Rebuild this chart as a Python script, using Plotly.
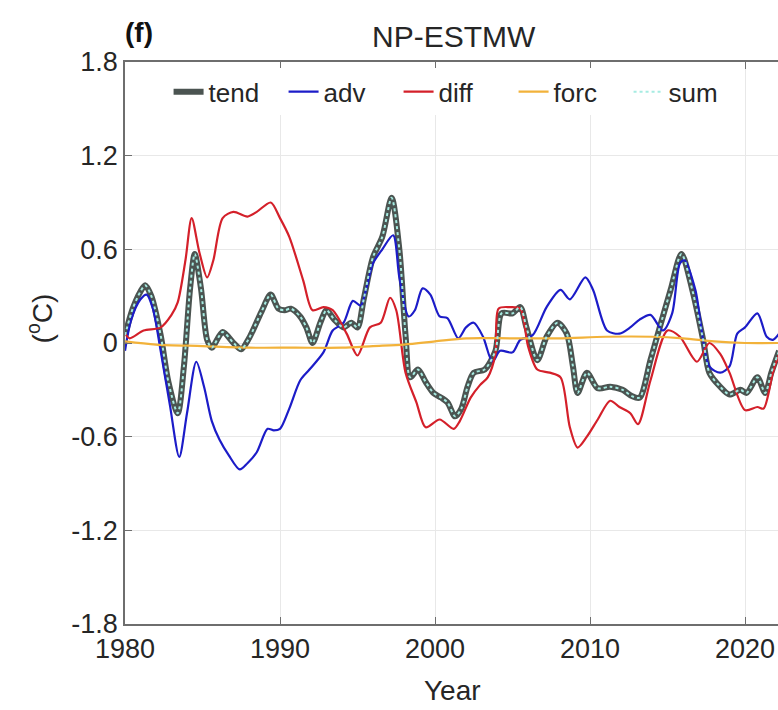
import plotly.graph_objects as go

# ---------------- data ----------------
tend_years = [1980.0, 1980.5, 1981.0, 1981.3, 1981.7, 1982.3, 1982.8, 1983.4, 1983.8, 1984.2,
              1984.5, 1984.9, 1985.3, 1985.6, 1986.3, 1987.0, 1987.5, 1988.0, 1988.8, 1989.4,
              1989.9, 1990.3, 1990.7, 1991.3, 1991.7, 1992.1, 1992.6, 1993.0, 1993.5, 1994.1,
              1994.6, 1995.0, 1995.4, 1996.0, 1996.6, 1997.2, 1997.7, 1998.1, 1998.4, 1998.9,
              1999.4, 1999.9, 2000.4, 2000.8, 2001.3, 2001.7, 2002.1, 2002.5, 2003.2, 2003.9,
              2004.3, 2005.0, 2005.5, 2005.9, 2006.6, 2007.2, 2007.9, 2008.5, 2008.9, 2009.2,
              2009.8, 2010.5, 2011.3, 2012.1, 2012.7, 2013.2, 2013.9, 2014.5, 2015.2, 2015.9,
              2016.6, 2017.3, 2017.7, 2018.4, 2019.0, 2019.7, 2020.1, 2020.8, 2021.3, 2021.7,
              2022.2]
tend_vals = [0.05, 0.22, 0.33, 0.37, 0.30, 0.05, -0.25, -0.45, -0.15, 0.35,
             0.57, 0.35, 0.02, -0.03, 0.07, 0.00, -0.04, 0.03, 0.20, 0.31,
             0.22, 0.21, 0.22, 0.17, 0.10, 0.00, 0.13, 0.21, 0.15, 0.10,
             0.13, 0.10, 0.28, 0.55, 0.68, 0.93, 0.60, 0.05, -0.22, -0.17,
             -0.25, -0.32, -0.35, -0.38, -0.47, -0.42, -0.28, -0.19, -0.17, -0.05,
             0.19, 0.19, 0.23, 0.10, -0.11, 0.04, 0.13, 0.06, -0.15, -0.32,
             -0.19, -0.29, -0.28, -0.30, -0.34, -0.35, -0.11, 0.10, 0.34, 0.57,
             0.34, 0.02, -0.19, -0.28, -0.33, -0.30, -0.32, -0.22, -0.32, -0.19,
             -0.05]

# "sum" overlays "tend" in the picture (same readings)
sum_years = list(tend_years)
sum_vals = list(tend_vals)

adv_years = [1980.0, 1980.4, 1981.0, 1981.4, 1981.8, 1982.3, 1982.9, 1983.5, 1984.0, 1984.6,
             1985.1, 1985.6, 1986.1, 1986.7, 1987.4, 1987.9, 1988.5, 1989.2, 1989.6, 1990.0,
             1990.6, 1991.3, 1991.9, 1992.8, 1993.4, 1994.1, 1994.7, 1995.2, 1995.6, 1996.0,
             1996.6, 1997.3, 1997.7, 1998.3, 1998.7, 1999.2, 1999.7, 2000.3, 2000.8, 2001.5,
             2002.0, 2002.5, 2003.1, 2003.7, 2004.2, 2005.0, 2005.5, 2006.3, 2007.2, 2008.1,
             2008.7, 2009.7, 2010.2, 2011.1, 2011.9, 2012.6, 2013.2, 2013.9, 2014.7, 2015.3,
             2015.8, 2016.1, 2016.8, 2017.7, 2018.4, 2019.0, 2019.5, 2020.0, 2020.8, 2021.4,
             2021.8, 2022.2]
adv_vals = [-0.05, 0.15, 0.28, 0.31, 0.22, -0.05, -0.40, -0.73, -0.45, -0.12,
            -0.28, -0.50, -0.62, -0.72, -0.81, -0.77, -0.70, -0.55, -0.56, -0.55,
            -0.42, -0.24, -0.17, -0.06, 0.08, 0.13, 0.27, 0.24, 0.36, 0.51,
            0.60, 0.69, 0.42, 0.17, 0.21, 0.35, 0.31, 0.17, 0.16, 0.03,
            0.10, 0.13, 0.04, -0.12, -0.05, -0.06, 0.02, 0.05, 0.23, 0.34,
            0.28, 0.42, 0.34, 0.08, 0.06, 0.10, 0.15, 0.18, 0.08, 0.19,
            0.51, 0.53, 0.34, -0.15, -0.19, -0.15, 0.06, 0.10, 0.19, 0.04,
            0.02, 0.06]

diff_years = [1980.0, 1980.3, 1981.2, 1982.3, 1983.0, 1983.4, 1983.9, 1984.3, 1984.8, 1985.3,
              1985.7, 1986.3, 1987.0, 1987.9, 1988.5, 1989.4, 1990.0, 1990.6, 1991.5, 1992.1,
              1992.8, 1993.4, 1994.3, 1995.0, 1995.8, 1996.5, 1997.1, 1997.5, 1998.1, 1998.8,
              1999.4, 2000.3, 2001.2, 2001.6, 2002.3, 2002.9, 2003.4, 2003.9, 2004.1, 2004.8,
              2005.5, 2006.0, 2006.6, 2007.4, 2008.1, 2008.7, 2009.2, 2009.8, 2010.5, 2011.3,
              2011.9, 2012.6, 2013.1, 2013.9, 2015.0, 2015.8, 2016.9, 2017.7, 2018.4, 2019.0,
              2020.0, 2020.8, 2021.2, 2021.8, 2022.2]
diff_vals = [0.06, 0.03, 0.08, 0.10, 0.18, 0.26, 0.53, 0.80, 0.58, 0.42,
             0.53, 0.80, 0.84, 0.81, 0.84, 0.90, 0.80, 0.68, 0.40, 0.21,
             0.23, 0.21, 0.06, -0.08, 0.10, 0.13, 0.29, 0.21, -0.19, -0.38,
             -0.54, -0.49, -0.55, -0.50, -0.35, -0.27, -0.22, -0.07, 0.22, 0.23,
             0.22, -0.02, -0.17, -0.19, -0.22, -0.54, -0.67, -0.60, -0.49, -0.37,
             -0.41, -0.45, -0.52, -0.24, 0.08, 0.04, -0.12, 0.00, -0.07, -0.19,
             -0.43, -0.41, -0.42, -0.19, -0.07]

forc_years = [1980.0, 1982.0, 1985.0, 1988.0, 1991.0, 1994.0, 1996.0, 1998.0, 2000.0, 2002.0,
              2005.0, 2008.0, 2011.0, 2014.0, 2016.0, 2018.0, 2020.0, 2022.2]
forc_vals = [0.01, -0.01, -0.02, -0.03, -0.03, -0.03, -0.02, -0.01, 0.01, 0.03,
             0.03, 0.03, 0.04, 0.04, 0.03, 0.01, 0.00, 0.00]

x_ticks = [1980, 1990, 2000, 2010, 2020]
x_ticklabels = ["1980", "1990", "2000", "2010", "2020"]
y_ticks = [-1.8, -1.2, -0.6, 0, 0.6, 1.2, 1.8]
y_ticklabels = ["-1.8", "-1.2", "-0.6", "0", "0.6", "1.2", "1.8"]

# ---------------- figure ----------------
FONT = "Liberation Sans, Arial, Helvetica, sans-serif"
TXT = "#262626"

fig = go.Figure()
fig.add_trace(go.Scatter(x=tend_years, y=tend_vals, name="tend", mode="lines",
                         line=dict(color="#4b5451", width=6, shape="spline", smoothing=0.8)))
fig.add_trace(go.Scatter(x=adv_years, y=adv_vals, name="adv", mode="lines",
                         line=dict(color="#1c1cc8", width=2.2, shape="spline", smoothing=0.8)))
fig.add_trace(go.Scatter(x=diff_years, y=diff_vals, name="diff", mode="lines",
                         line=dict(color="#d4202a", width=2.2, shape="spline", smoothing=0.8)))
fig.add_trace(go.Scatter(x=forc_years, y=forc_vals, name="forc", mode="lines",
                         line=dict(color="#f2b23a", width=2.2, shape="spline", smoothing=0.8)))
fig.add_trace(go.Scatter(x=sum_years, y=sum_vals, name="sum", mode="lines",
                         line=dict(color="#a6ece2", width=2, dash="dot", shape="spline", smoothing=0.8)))

fig.update_layout(
    width=778, height=710,
    margin=dict(l=125, r=0, t=62, b=86),
    paper_bgcolor="white", plot_bgcolor="white",
    font=dict(family=FONT, size=27, color=TXT),
    showlegend=True,
    legend=dict(orientation="h", x=0.507, y=0.947, xanchor="center", yanchor="middle",
                bgcolor="rgba(255,255,255,1)", borderwidth=0,
                font=dict(family=FONT, size=26, color=TXT), entrywidth=70,
                tracegroupgap=0),
    xaxis=dict(range=[1980, 1980 + 653 / 15.5], tickvals=x_ticks, ticktext=x_ticklabels,
               showgrid=True, gridcolor="#e8e8e8", gridwidth=1,
               showline=True, linecolor="#6e6e6e", linewidth=1.5, mirror="ticks",
               ticks="inside", ticklen=7, tickcolor="#6e6e6e",
               tickfont=dict(family=FONT, size=27, color=TXT), zeroline=False),
    yaxis=dict(range=[-1.8, 1.8], tickvals=y_ticks, ticktext=y_ticklabels,
               showgrid=True, gridcolor="#e8e8e8", gridwidth=1,
               showline=True, linecolor="#6e6e6e", linewidth=1.5, mirror=False,
               ticks="inside", ticklen=7, tickcolor="#6e6e6e",
               tickfont=dict(family=FONT, size=27, color=TXT), zeroline=False),
    annotations=[
        dict(text="NP-ESTMW", xref="paper", yref="paper", x=0.504, y=1.046,
             xanchor="center", yanchor="middle", showarrow=False,
             font=dict(family=FONT, size=30, color=TXT)),
        dict(text="<b>(f)</b>", xref="paper", yref="paper", x=-0.003, y=1.052,
             xanchor="left", yanchor="middle", showarrow=False,
             font=dict(family=FONT, size=28, color="#111111")),
        dict(text="Year", xref="paper", yref="paper", x=0.501, y=-0.119,
             xanchor="center", yanchor="middle", showarrow=False,
             font=dict(family=FONT, size=28, color=TXT)),
        dict(text="(<sup>o</sup>C)", xref="paper", yref="paper", x=-0.13, y=0.544,
             xanchor="center", yanchor="middle", showarrow=False, textangle=-90,
             font=dict(family=FONT, size=28, color=TXT)),
    ],
)

fig.write_html("out.html")
